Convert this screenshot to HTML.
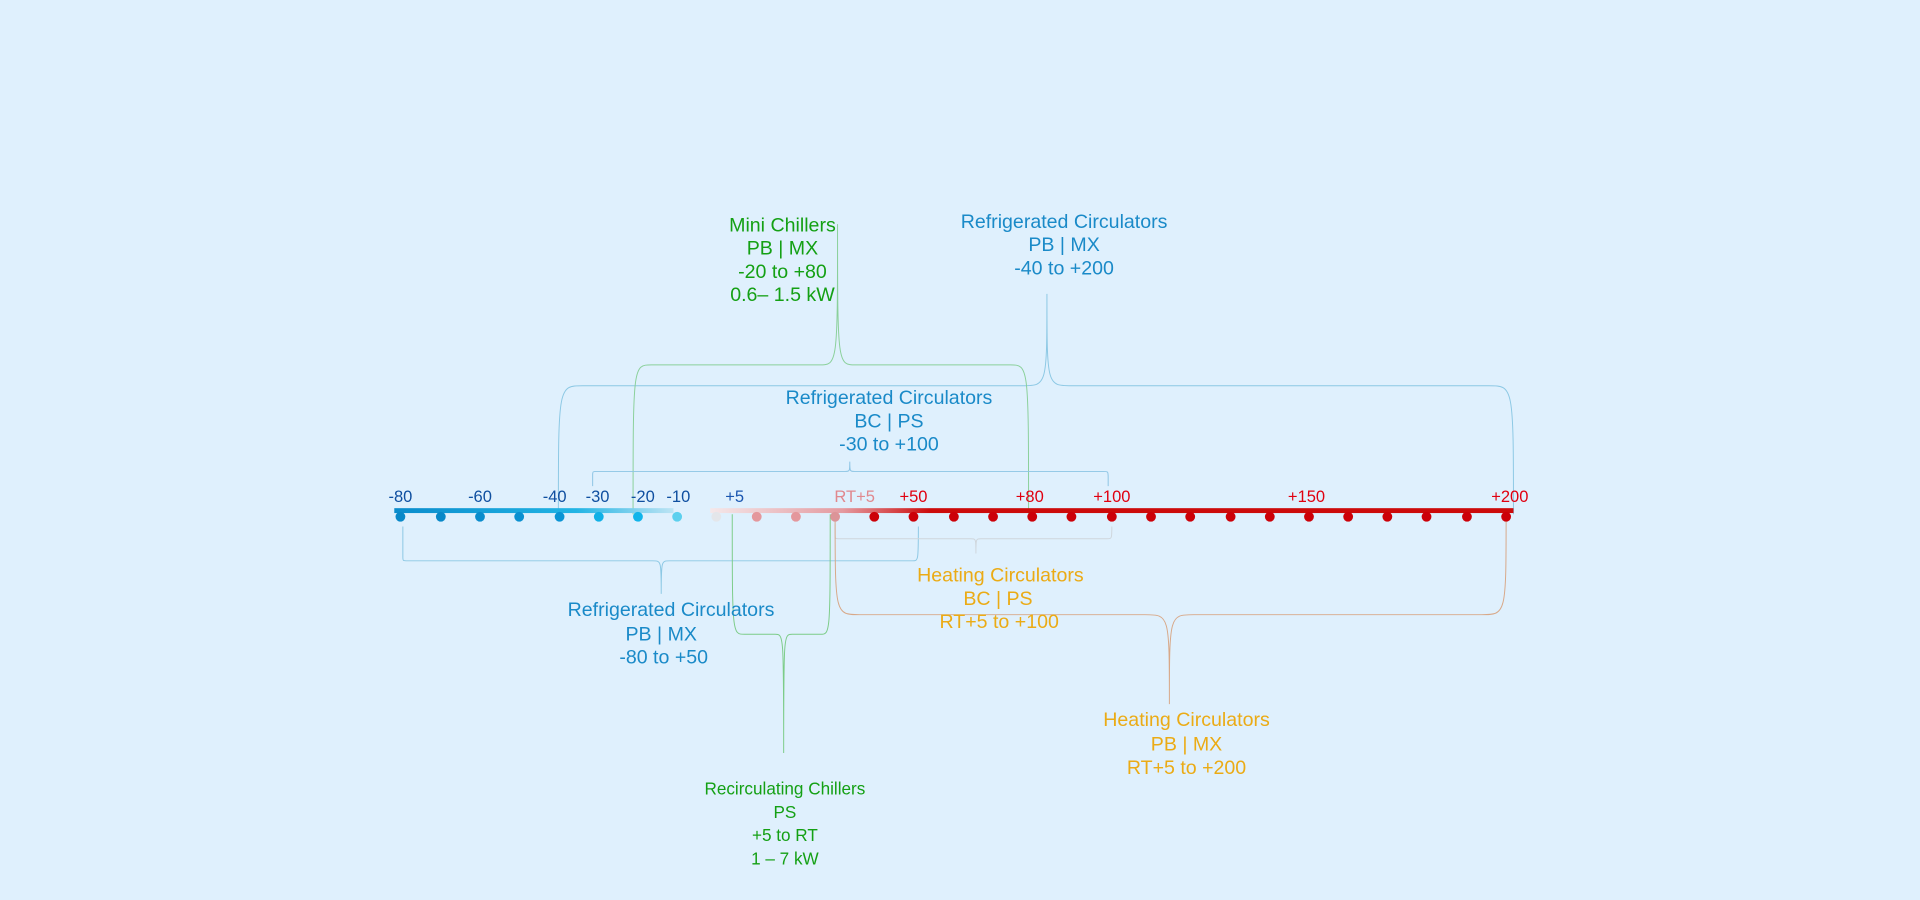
<!DOCTYPE html>
<html><head><meta charset="utf-8"><style>
html,body{margin:0;padding:0;background:#dff0fd;}
svg{display:block}
text{font-family:"Liberation Sans",sans-serif;text-anchor:middle}
</style></head><body>
<svg width="1920" height="900" viewBox="0 0 1568 735" preserveAspectRatio="none">
<defs>
<linearGradient id="gb" x1="322" x2="550" gradientUnits="userSpaceOnUse"><stop offset="0" stop-color="#0a8ccc"/><stop offset="0.65" stop-color="#22b4e4"/><stop offset="1" stop-color="#bde4f4"/></linearGradient>
<linearGradient id="gr" x1="580" x2="760" gradientUnits="userSpaceOnUse"><stop offset="0" stop-color="#f4e8ea"/><stop offset="0.6" stop-color="#e49aa0"/><stop offset="1" stop-color="#cc0a0a"/></linearGradient>
</defs>
<rect width="1568" height="735" fill="#dff0fd"/>
<g fill="none" stroke-width="0.8">
<path d="M456 420 C456 315,456 315,476 315 L835 315 C855 315,855 315,855 240 C855 315,855 315,875 315 L1216 315 C1236 315,1236 315,1236 420" stroke="#8cc8e4"/>
<path d="M517 420 C517 298,517 298,532 298 L669 298 C684 298,684 298,684 183 C684 298,684 298,699 298 L825 298 C840 298,840 298,840 420" stroke="#8ad09a"/>
<path d="M484 397 L484 388 C484 385,484 385,488 385 L690 385 C694 385,694 385,694 377 C694 385,694 385,698 385 L901 385 C905 385,905 385,905 390 L905 397" stroke="#8cc4e4"/>
<path d="M329 430 L329 455 C329 458,329 458,333 458 L533 458 C540 458,540 458,540 485 C540 458,540 458,547 458 L745 458 C750 458,750 458,750 430" stroke="#8cc8e4"/>
<path d="M598 420 C598 518,598 518,608 518 L633 518 C640 518,640 518,640 615 C640 518,640 518,647 518 L670 518 C678 518,678 518,678 420" stroke="#7ccc88"/>
<path d="M682 428 L682 437 C682 440,682 440,686 440 L793 440 C797 440,797 440,797 452 C797 440,797 440,801 440 L904 440 C908 440,908 440,908 430" stroke="#cfd6dc"/>
<path d="M682 420 C682 502,682 502,702 502 L935 502 C955 502,955 502,955 575 C955 502,955 502,975 502 L1210 502 C1230 502,1230 502,1230 420" stroke="#d8a888"/>
</g>
<rect x="322" y="415" width="228" height="4" fill="url(#gb)"/>
<rect x="580" y="415" width="656" height="4" fill="url(#gr)"/>
<g>
<circle cx="327" cy="422" r="4" fill="#0888c8"/>
<circle cx="360" cy="422" r="4" fill="#0888c8"/>
<circle cx="392" cy="422" r="4" fill="#0a8ccc"/>
<circle cx="424" cy="422" r="4" fill="#0a90d0"/>
<circle cx="457" cy="422" r="4" fill="#0a94d4"/>
<circle cx="489" cy="422" r="4" fill="#10b0e6"/>
<circle cx="521" cy="422" r="4" fill="#10b4ea"/>
<circle cx="553" cy="422" r="4" fill="#5cd0ee"/>
<circle cx="585" cy="422" r="4" fill="#e4e6ea"/>
<circle cx="618" cy="422" r="4" fill="#e4979c"/>
<circle cx="650" cy="422" r="4" fill="#e4979c"/>
<circle cx="682" cy="422" r="4" fill="#dc9498"/>
<g fill="#cc0008">
<circle cx="714" cy="422" r="4"/><circle cx="746" cy="422" r="4"/><circle cx="779" cy="422" r="4"/><circle cx="811" cy="422" r="4"/><circle cx="843" cy="422" r="4"/><circle cx="875" cy="422" r="4"/><circle cx="908" cy="422" r="4"/><circle cx="940" cy="422" r="4"/><circle cx="972" cy="422" r="4"/><circle cx="1005" cy="422" r="4"/><circle cx="1037" cy="422" r="4"/><circle cx="1069" cy="422" r="4"/><circle cx="1101" cy="422" r="4"/><circle cx="1133" cy="422" r="4"/><circle cx="1165" cy="422" r="4"/><circle cx="1198" cy="422" r="4"/><circle cx="1230" cy="422" r="4"/>
</g>
</g>
<g font-size="13.5">
<text x="327" y="410" fill="#0f4fa0">-80</text>
<text x="392" y="410" fill="#0f4fa0">-60</text>
<text x="453" y="410" fill="#0f4fa0">-40</text>
<text x="488" y="410" fill="#0f4fa0">-30</text>
<text x="525" y="410" fill="#0f4fa0">-20</text>
<text x="554" y="410" fill="#0f4fa0">-10</text>
<text x="600" y="410" fill="#1a56b0">+5</text>
<text x="698" y="410" fill="#e0888e">RT+5</text>
<text x="746" y="410" fill="#e00010">+50</text>
<text x="841" y="410" fill="#e00010">+80</text>
<text x="908" y="410" fill="#e00010">+100</text>
<text x="1067" y="410" fill="#e00010">+150</text>
<text x="1233" y="410" fill="#e00010">+200</text>
</g>
<g font-size="16">
<g fill="#14a014"><text x="639" y="189">Mini Chillers</text><text x="639" y="208">PB | MX</text><text x="639" y="227">-20 to +80</text><text x="639" y="246">0.6– 1.5 kW</text></g>
<g fill="#1a8ac8"><text x="869" y="186">Refrigerated Circulators</text><text x="869" y="205">PB | MX</text><text x="869" y="224">-40 to +200</text></g>
<g fill="#1a8ac8"><text x="726" y="330">Refrigerated Circulators</text><text x="726" y="349">BC | PS</text><text x="726" y="368">-30 to +100</text></g>
<g fill="#1a8ac8"><text x="548" y="503">Refrigerated Circulators</text><text x="540" y="523">PB | MX</text><text x="542" y="542">-80 to +50</text></g>
<g fill="#ebab15"><text x="817" y="475">Heating Circulators</text><text x="815" y="494">BC | PS</text><text x="816" y="513">RT+5 to +100</text></g>
<g fill="#ebab15"><text x="969" y="593">Heating Circulators</text><text x="969" y="613">PB | MX</text><text x="969" y="632">RT+5 to +200</text></g>
</g>
<g font-size="14" fill="#14a014"><text x="641" y="649">Recirculating Chillers</text><text x="641" y="668">PS</text><text x="641" y="687">+5 to RT</text><text x="641" y="706">1 – 7 kW</text></g>
</svg>
</body></html>
